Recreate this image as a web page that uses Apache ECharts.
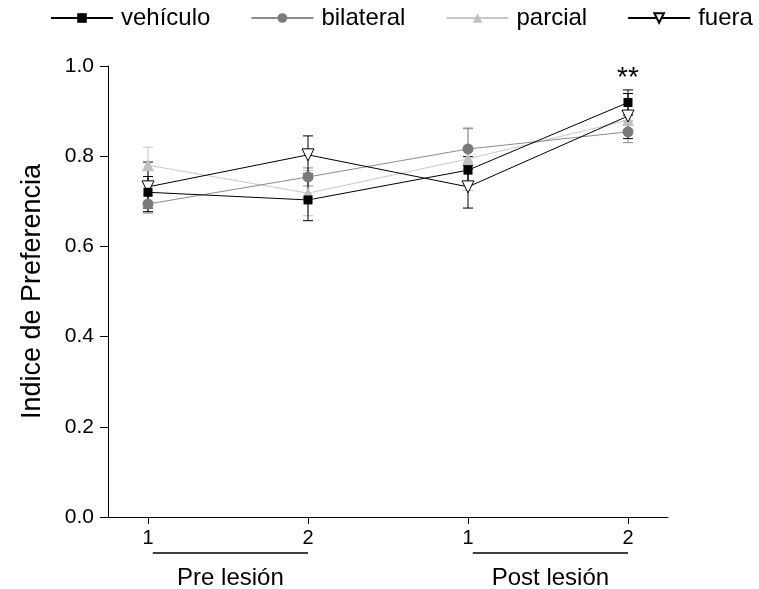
<!DOCTYPE html>
<html>
<head>
<meta charset="utf-8">
<script src="https://cdn.jsdelivr.net/npm/echarts@6/dist/echarts.min.js"></script>
<style>
  html, body { margin: 0; padding: 0; background: #fff; }
  #chart { width: 759px; height: 589px; }
</style>
</head>
<body>
<div id="chart"></div>
<script>
// x positions of the four sessions, and what is printed under each
const sessions = [0, 1, 2, 3];
const sessionLabels = ['1', '2', '1', '2'];
// group brackets under the axis: [from, to, label]
const groups = [
  [0.03, 1, 'Pre lesión'],
  [2.03, 3, 'Post lesión'],
];

const names = ['vehículo', 'bilateral', 'parcial', 'fuera'];

// mean preference index per session
const vehiculo = [0.72, 0.703, 0.769, 0.919];
const bilateral = [0.694, 0.754, 0.816, 0.854];
const parcial = [0.78, 0.718, 0.794, 0.88];
const fuera = [0.732, 0.803, 0.732, 0.889];

// standard error per session
const vehiculoErr = [0.035, 0.046, 0.03, 0.028];
const bilateralErr = [0.02, 0.02, 0.045, 0.024];
const parcialErr = [0.04, 0.05, 0.07, 0.02];
const fueraErr = [0.055, 0.042, 0.047, 0.05];

// significance mark
const signif = [[3, 0.972, '**']];

const FONT = 'Liberation Sans, Arial, Helvetica, sans-serif';

const chart = echarts.init(document.getElementById('chart'));

function errData(mean, err) {
  return sessions.map((x, i) => [x, mean[i] - err[i], mean[i] + err[i]]);
}

function errSeries(mean, err, color) {
  return {
    type: 'custom',
    z: 1,
    silent: true,
    data: errData(mean, err),
    renderItem(params, api) {
      const x = api.value(0);
      const lo = api.coord([x, api.value(1)]);
      const hi = api.coord([x, api.value(2)]);
      const w = 5;
      const style = { stroke: color, lineWidth: 1 };
      return {
        type: 'group',
        children: [
          { type: 'line', shape: { x1: lo[0], y1: lo[1], x2: hi[0], y2: hi[1] }, style },
          { type: 'line', shape: { x1: lo[0] - w, y1: lo[1], x2: lo[0] + w, y2: lo[1] }, style },
          { type: 'line', shape: { x1: hi[0] - w, y1: hi[1], x2: hi[0] + w, y2: hi[1] }, style },
        ],
      };
    },
  };
}

function lineSeries(name, mean, opts) {
  return Object.assign({
    name,
    type: 'line',
    z: 3,
    data: sessions.map((x, i) => [x, mean[i]]),
  }, opts);
}

const option = {
  animation: false,
  backgroundColor: '#fff',
  textStyle: { fontFamily: FONT, color: '#000' },
  legend: {
    data: names,
    left: 50,
    top: 6,
    padding: 0,
    itemWidth: 62,
    itemHeight: 12,
    itemGap: 40,
    textStyle: { fontFamily: FONT, fontSize: 24, color: '#000', padding: [0, 0, 0, 3] },
  },
  grid: { left: 108, right: 91, top: 66, bottom: 72 },
  xAxis: {
    type: 'value',
    min: -0.25,
    max: 3.25,
    splitLine: { show: false },
    axisLine: { onZero: false, lineStyle: { color: '#000', width: 1 } },
    axisTick: { show: true, length: 7, customValues: sessions, lineStyle: { color: '#000' } },
    axisLabel: {
      customValues: sessions,
      margin: 11,
      fontSize: 20,
      color: '#000',
      fontFamily: FONT,
      formatter: (v) => sessionLabels[Math.round(v)],
    },
  },
  yAxis: {
    type: 'value',
    min: 0,
    max: 1,
    interval: 0.2,
    name: 'Indice de Preferencia',
    nameLocation: 'middle',
    nameGap: 62,
    nameTextStyle: { fontSize: 27, color: '#000', fontFamily: FONT },
    splitLine: { show: false },
    axisLine: { show: true, onZero: false, lineStyle: { color: '#000', width: 1 } },
    axisTick: { show: true, length: 8, lineStyle: { color: '#000' } },
    axisLabel: {
      margin: 14,
      fontSize: 21,
      color: '#000',
      fontFamily: FONT,
      formatter: (v) => v.toFixed(1),
    },
  },
  series: [
    errSeries(parcial, parcialErr, '#c4c4c4'),
    errSeries(bilateral, bilateralErr, '#8a8a8a'),
    errSeries(fuera, fueraErr, '#000'),
    errSeries(vehiculo, vehiculoErr, '#000'),
    lineSeries('parcial', parcial, {
      symbol: 'triangle',
      symbolSize: 12,
      lineStyle: { color: '#c8c8c8', width: 1 },
      itemStyle: { color: '#c0c0c0' },
    }),
    lineSeries('bilateral', bilateral, {
      symbol: 'circle',
      symbolSize: 11,
      lineStyle: { color: '#8c8c8c', width: 1 },
      itemStyle: { color: '#7a7a7a' },
    }),
    lineSeries('fuera', fuera, {
      symbol: 'triangle',
      symbolRotate: 180,
      symbolSize: 12,
      lineStyle: { color: '#000', width: 1 },
      itemStyle: { color: '#fff', borderColor: '#000', borderWidth: 1 },
    }),
    lineSeries('vehículo', vehiculo, {
      symbol: 'rect',
      symbolSize: 9,
      lineStyle: { color: '#000', width: 1 },
      itemStyle: { color: '#000' },
    }),
    {
      // ** above the last session
      type: 'custom',
      silent: true,
      clip: false,
      data: signif,
      renderItem(params, api) {
        const p = api.coord([api.value(0), api.value(1)]);
        return {
          type: 'text',
          style: {
            x: p[0], y: p[1],
            text: signif[params.dataIndex][2],
            fontSize: 28, fontFamily: FONT, fill: '#000',
            align: 'center', verticalAlign: 'middle',
          },
        };
      },
    },
    {
      // group brackets below the axis
      type: 'custom',
      silent: true,
      clip: false,
      data: groups.map((g) => [g[0], g[1]]),
      renderItem(params, api) {
        const a = api.coord([api.value(0), 0]);
        const b = api.coord([api.value(1), 0]);
        const y = a[1] + 36;
        return {
          type: 'group',
          children: [
            { type: 'line', shape: { x1: a[0], y1: y, x2: b[0], y2: y }, style: { stroke: '#000', lineWidth: 1.3 } },
            {
              type: 'text',
              style: {
                x: (a[0] + b[0]) / 2, y: y + 25,
                text: groups[params.dataIndex][2],
                fontSize: 24, fontFamily: FONT, fill: '#000',
                align: 'center', verticalAlign: 'middle',
              },
            },
          ],
        };
      },
    },
  ],
};

chart.setOption(option);
</script>
</body>
</html>
